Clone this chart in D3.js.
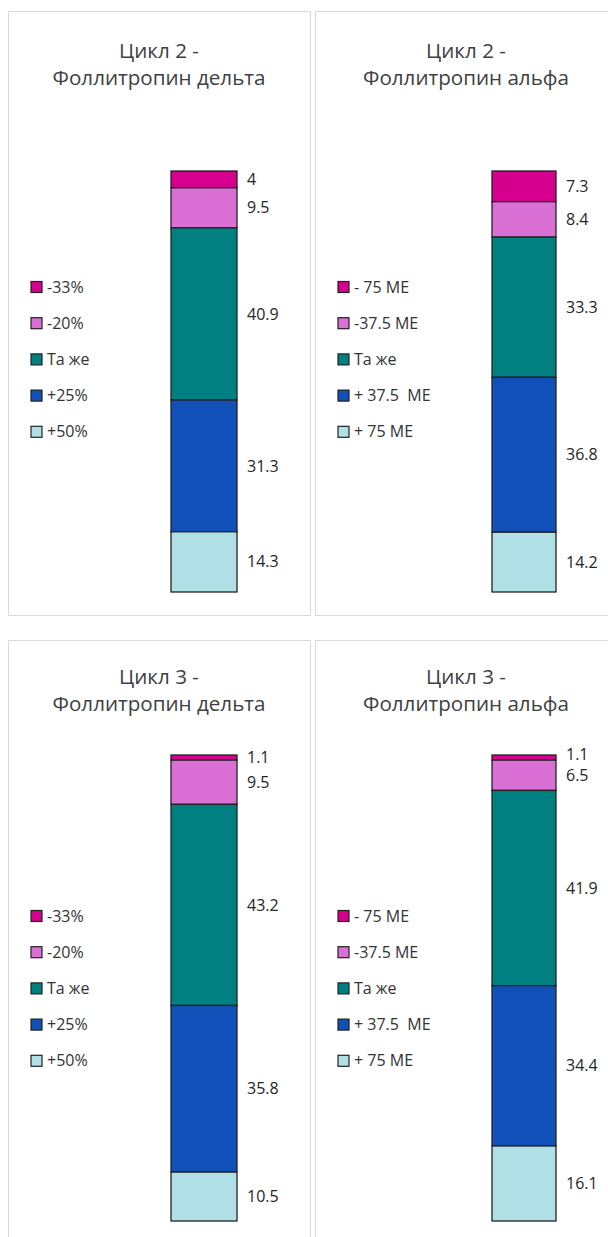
<!DOCTYPE html>
<html>
<head>
<meta charset="utf-8">
<script src="https://cdn.jsdelivr.net/npm/d3@7"></script>
<style>
	body { margin: 0; background: #fff; }
	svg { display: block; }
	text { font-family: "Open Sans", sans-serif; }
</style>
</head>
<body>
<div id="plot"></div>
<script>

// legend categories (top of the bar first)
const delta_categories = [ "-33%", "-20%", "Та же", "+25%", "+50%" ];
const alfa_categories = [ "- 75 МЕ", "-37.5 МЕ", "Та же", "+ 37.5  МЕ", "+ 75 МЕ" ];

// values, same order as categories
const cycle2_delta = [ 4, 9.5, 40.9, 31.3, 14.3 ];
const cycle2_alfa = [ 7.3, 8.4, 33.3, 36.8, 14.2 ];
const cycle3_delta = [ 1.1, 9.5, 43.2, 35.8, 10.5 ];
const cycle3_alfa = [ 1.1, 6.5, 41.9, 34.4, 16.1 ];

const titles = [
	[ "Цикл 2 -", "Фоллитропин дельта" ],
	[ "Цикл 2 -", "Фоллитропин альфа" ],
	[ "Цикл 3 -", "Фоллитропин дельта" ],
	[ "Цикл 3 -", "Фоллитропин альфа" ]
];

const colors = [ "#d5008e", "#da70d6", "#008080", "#1150b8", "#b0e0e6" ];

///////////////////////////////////////////////////////////////////////

const width = 608, height = 1237;

let svg = d3.select( "#plot" )
	.append( "svg" )
		.attr( "width", width )
		.attr( "height", height );

let panels = [
	{ x: 8,   y: 11,  values: cycle2_delta, cats: delta_categories, title: titles[ 0 ], barX: 163, barW: 66, barTop: 160, titleY: 47 },
	{ x: 315, y: 11,  values: cycle2_alfa,  cats: alfa_categories,  title: titles[ 1 ], barX: 177, barW: 64, barTop: 160, titleY: 47 },
	{ x: 8,   y: 640, values: cycle3_delta, cats: delta_categories, title: titles[ 2 ], barX: 163, barW: 66, barTop: 115, titleY: 44 },
	{ x: 315, y: 640, values: cycle3_alfa,  cats: alfa_categories,  title: titles[ 3 ], barX: 177, barW: 64, barTop: 115, titleY: 44 }
];

panels.forEach( p => draw_panel( p ) );

function draw_panel( p )	{

	let g = svg.append( "g" )
		.attr( "transform", `translate(${p.x},${p.y})` );

	g.append( "rect" )
		.attr( "x", 0.5 )
		.attr( "y", 0.5 )
		.attr( "width", 302 )
		.attr( "height", 604 )
		.attr( "fill", "#fff" )
		.attr( "stroke", "#d9d9d9" )
		.attr( "stroke-width", 1 );

	// title
	g.append( "text" )
		.attr( "x", 151 )
		.attr( "y", p.titleY )
		.attr( "text-anchor", "middle" )
		.attr( "font-size", 20.6 )
		.attr( "fill", "#404040" )
		.selectAll( "tspan" )
		.data( p.title )
		.join( "tspan" )
			.attr( "x", 151 )
			.attr( "dy", ( d, i ) => i ? 27 : 0 )
			.text( d => d );

	// stacked bar, first category on top
	let total = d3.sum( p.values );
	let ends = d3.cumsum( p.values );
	let stacked = p.values.map( ( v, i ) => ( { cat: p.cats[ i ], value: v, y0: ends[ i ] - v, y1: ends[ i ], i } ) );

	let y = d3.scaleLinear()
		.domain( [ 0, total ] )
		.range( [ p.barTop, 581 ] );

	let x = d3.scaleBand()
		.domain( [ "bar" ] )
		.range( [ p.barX, p.barX + p.barW ] )
		.padding( 0 );

	g.append( "g" )
		.selectAll( "rect" )
		.data( stacked )
		.join( "rect" )
			.attr( "x", x( "bar" ) )
			.attr( "width", x.bandwidth() )
			.attr( "y", d => y( d.y0 ) )
			.attr( "height", d => y( d.y1 ) - y( d.y0 ) )
			.attr( "fill", d => colors[ d.i ] )
			.attr( "stroke", "#222" )
			.attr( "stroke-width", 1.3 );

	// label positions, pushed up when two thin segments sit too close
	let label_y = stacked.map( d => ( y( d.y0 ) + y( d.y1 ) ) / 2 );
	for( let i = label_y.length - 2; i >= 0; i-- )	{
		if( label_y[ i ] > label_y[ i + 1 ] - 21 ) label_y[ i ] = label_y[ i + 1 ] - 21;
	}

	g.append( "g" )
		.selectAll( "text" )
		.data( stacked )
		.join( "text" )
			.attr( "x", x( "bar" ) + x.bandwidth() + 10 )
			.attr( "y", ( d, i ) => label_y[ i ] )
			.attr( "dy", "0.35em" )
			.attr( "font-size", 16 )
			.attr( "fill", "#262626" )
			.text( d => d.value );

	// legend
	let legend = g.append( "g" )
		.selectAll( "g" )
		.data( p.cats )
		.join( "g" )
			.attr( "transform", ( d, i ) => `translate(23,${276 + i * 36.2})` );

	legend.append( "rect" )
		.attr( "x", 0 )
		.attr( "y", -5.5 )
		.attr( "width", 11 )
		.attr( "height", 11 )
		.attr( "fill", ( d, i ) => colors[ i ] )
		.attr( "stroke", "#222" )
		.attr( "stroke-width", 1.2 );

	legend.append( "text" )
		.attr( "x", 16 )
		.attr( "dy", "0.35em" )
		.attr( "font-size", 16 )
		.attr( "fill", "#333" )
		.attr( "xml:space", "preserve" )
		.style( "white-space", "pre" )
		.text( d => d );
}

</script>
</body>
</html>
